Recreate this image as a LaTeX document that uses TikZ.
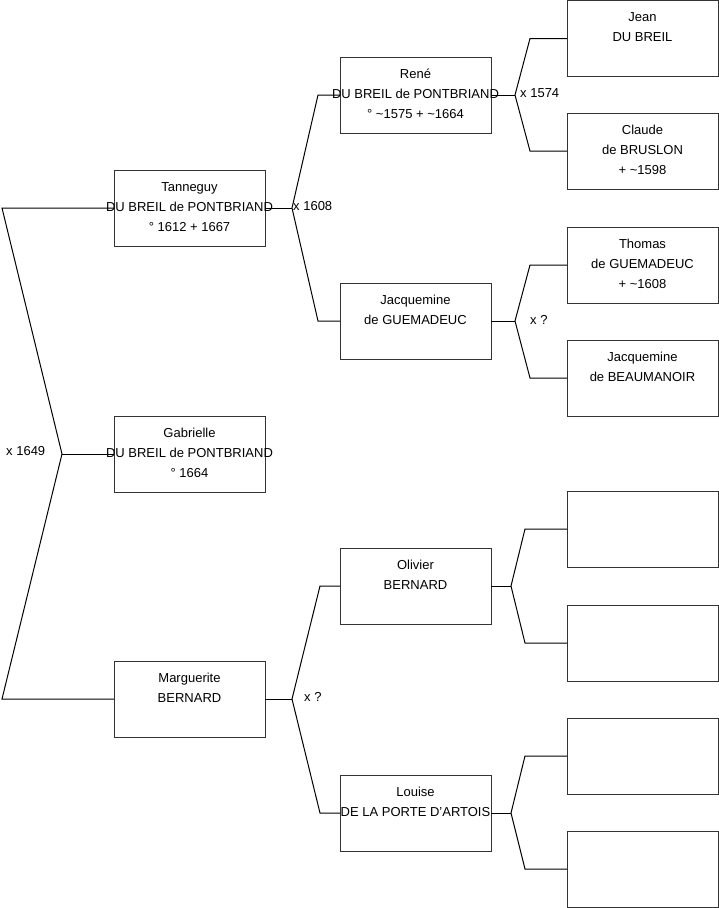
\documentclass[tikz,border=0pt]{standalone}
\usepackage{fontspec}
\setmainfont{Liberation Sans}
\begin{document}
\begin{tikzpicture}[x=1pt,y=-1pt,
  person/.style={draw=black!80,line width=1pt,fill=none,minimum width=151pt,minimum height=76pt,inner sep=0pt,outer sep=0pt},
  txt/.style={anchor=north,align=center,inner sep=0pt,font=\fontsize{13}{20}\selectfont},
  lab/.style={anchor=west,inner sep=0pt,font=\fontsize{13}{20}\selectfont},
  link/.style={draw=black,line width=1pt}]
\useasboundingbox (0,0) rectangle (719,908);
% boxes
\node[person] (tanneguy) at (189.5,208) {};
\node[person] (gabrielle) at (189.5,454) {};
\node[person] (marguerite) at (189.5,699) {};
\node[person] (rene) at (415.5,95) {};
\node[person] (jacqg) at (415.5,321) {};
\node[person] (olivier) at (415.5,586) {};
\node[person] (louise) at (415.5,813) {};
\node[person] (jean) at (642.5,38.5) {};
\node[person] (claude) at (642.5,151) {};
\node[person] (thomas) at (642.5,265) {};
\node[person] (jacqb) at (642.5,378) {};
\node[person] (e1) at (642.5,529) {};
\node[person] (e2) at (642.5,643) {};
\node[person] (e3) at (642.5,756) {};
\node[person] (e4) at (642.5,869) {};
% fork points
\coordinate (f1) at (62,454);
\coordinate (f1a) at (2,208);
\coordinate (f1b) at (2,699);
\coordinate (f2) at (292,208);
\coordinate (f2a) at (318,95);
\coordinate (f2b) at (318,321);
\coordinate (f3) at (515,95);
\coordinate (f3a) at (530,38.5);
\coordinate (f3b) at (530,151);
\coordinate (f4) at (515,321);
\coordinate (f4a) at (530,265);
\coordinate (f4b) at (530,378);
\coordinate (f5) at (292,699);
\coordinate (f5a) at (320,586);
\coordinate (f5b) at (320,813);
\coordinate (f6) at (511,586);
\coordinate (f6a) at (525,529);
\coordinate (f6b) at (525,643);
\coordinate (f7) at (511,813);
\coordinate (f7a) at (525,756);
\coordinate (f7b) at (525,869);
% connectors
\draw[link] (tanneguy.west) -- (f1a) -- (f1) -- (f1b) -- (marguerite.west);
\draw[link] (f1) -- (gabrielle.west);
\draw[link] (tanneguy.east) -- (f2);
\draw[link] (rene.west) -- (f2a) -- (f2) -- (f2b) -- (jacqg.west);
\draw[link] (rene.east) -- (f3);
\draw[link] (jean.west) -- (f3a) -- (f3) -- (f3b) -- (claude.west);
\draw[link] (jacqg.east) -- (f4);
\draw[link] (thomas.west) -- (f4a) -- (f4) -- (f4b) -- (jacqb.west);
\draw[link] (marguerite.east) -- (f5);
\draw[link] (olivier.west) -- (f5a) -- (f5) -- (f5b) -- (louise.west);
\draw[link] (olivier.east) -- (f6);
\draw[link] (e1.west) -- (f6a) -- (f6) -- (f6b) -- (e2.west);
\draw[link] (louise.east) -- (f7);
\draw[link] (e3.west) -- (f7a) -- (f7) -- (f7b) -- (e4.west);
% texts
\node[txt] (tanneguy-t) at ([yshift=-7pt]tanneguy.north) {\strut Tanneguy\\DU BREIL de PONTBRIAND\\° 1612 + 1667};
\node[txt] (gabrielle-t) at ([yshift=-7pt]gabrielle.north) {\strut Gabrielle\\DU BREIL de PONTBRIAND\\° 1664};
\node[txt] (marguerite-t) at ([yshift=-7pt]marguerite.north) {\strut Marguerite\\BERNARD};
\node[txt] (rene-t) at ([yshift=-7pt]rene.north) {\strut René\\DU BREIL de PONTBRIAND\\° \textasciitilde1575 + \textasciitilde1664};
\node[txt] (jacqg-t) at ([yshift=-7pt]jacqg.north) {\strut Jacquemine\\de GUEMADEUC};
\node[txt] (olivier-t) at ([yshift=-7pt]olivier.north) {\strut Olivier\\BERNARD};
\node[txt] (louise-t) at ([yshift=-7pt]louise.north) {\strut Louise\\DE LA PORTE D'ARTOIS};
\node[txt] (jean-t) at ([yshift=-7pt]jean.north) {\strut Jean\\DU BREIL};
\node[txt] (claude-t) at ([yshift=-7pt]claude.north) {\strut Claude\\de BRUSLON\\+ \textasciitilde1598};
\node[txt] (thomas-t) at ([yshift=-7pt]thomas.north) {\strut Thomas\\de GUEMADEUC\\+ \textasciitilde1608};
\node[txt] (jacqb-t) at ([yshift=-7pt]jacqb.north) {\strut Jacquemine\\de BEAUMANOIR};
% marriage labels
\node[lab] (m1) at (6,451) {x 1649};
\node[lab] (m2) at (293,206) {x 1608};
\node[lab] (m3) at (520,93) {x 1574};
\node[lab] (m4) at (530,320) {x ?};
\node[lab] (m5) at (304,697) {x ?};
\end{tikzpicture}
\end{document}
